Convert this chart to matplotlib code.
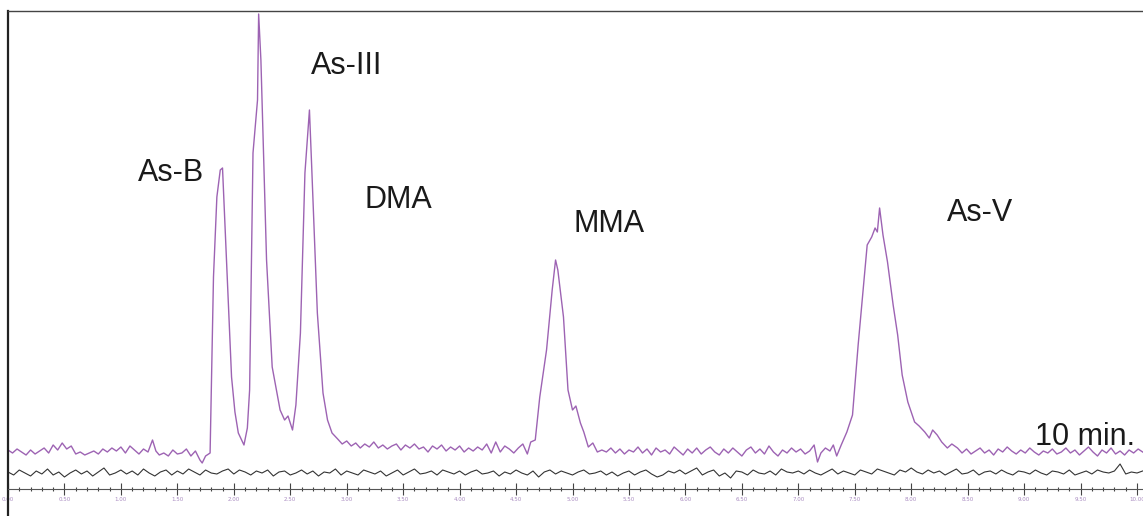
import numpy as np
import matplotlib
matplotlib.use("Agg")
import matplotlib.pyplot as plt
from matplotlib.ticker import MultipleLocator, FormatStrFormatter

# Sample chromatogram (purple), retention time in min vs. detector signal
sample_time = [
    0.00, 0.04, 0.08, 0.12, 0.16, 0.20, 0.24, 0.28, 0.32, 0.36, 0.40, 0.44, 0.48, 0.52, 0.56,
    0.60, 0.64, 0.68, 0.72, 0.76, 0.80, 0.84, 0.88, 0.92, 0.96, 1.00, 1.04, 1.08, 1.12, 1.16,
    1.20, 1.24, 1.28, 1.31, 1.34, 1.38, 1.42, 1.46, 1.50, 1.54, 1.58, 1.62, 1.66, 1.70, 1.72,
    1.75, 1.79, 1.82, 1.85, 1.88, 1.90, 1.92, 1.95, 1.98, 2.01, 2.04, 2.09, 2.12, 2.14, 2.17,
    2.21, 2.22, 2.24, 2.26, 2.29, 2.34, 2.41, 2.45, 2.48, 2.52, 2.55, 2.59, 2.63, 2.67, 2.69,
    2.74, 2.79, 2.83, 2.87,
    2.92, 2.96, 3.00, 3.04, 3.08, 3.12, 3.16, 3.20, 3.24, 3.28, 3.32, 3.36, 3.40, 3.44, 3.48,
    3.52, 3.56, 3.60, 3.64, 3.68, 3.72, 3.76, 3.80, 3.84, 3.88, 3.92, 3.96, 4.00, 4.04, 4.08,
    4.12, 4.16, 4.20, 4.24, 4.28, 4.32, 4.36, 4.40, 4.44, 4.48, 4.52, 4.56, 4.60, 4.63,
    4.67, 4.71, 4.77, 4.82, 4.85, 4.87, 4.92, 4.96, 5.00, 5.03, 5.07, 5.10, 5.14, 5.18, 5.22, 5.26,
    5.30, 5.34, 5.38, 5.42, 5.46, 5.50, 5.54, 5.58, 5.62, 5.66, 5.70, 5.74, 5.78, 5.82, 5.86,
    5.90, 5.94, 5.98, 6.02, 6.06, 6.10, 6.14, 6.18, 6.22, 6.26, 6.30, 6.34, 6.38, 6.42, 6.46,
    6.50, 6.54, 6.58, 6.62, 6.66, 6.70, 6.74, 6.78, 6.82, 6.86, 6.90, 6.94, 6.98, 7.02, 7.06,
    7.10, 7.14, 7.17, 7.20, 7.24, 7.28, 7.31, 7.34, 7.38,
    7.43, 7.48, 7.53, 7.57, 7.61, 7.65, 7.68, 7.70, 7.72, 7.75, 7.79, 7.84, 7.88, 7.92, 7.97,
    8.03, 8.07, 8.12, 8.16, 8.19, 8.23, 8.27, 8.32, 8.36, 8.41,
    8.45, 8.49, 8.53, 8.57, 8.61, 8.65, 8.69, 8.73, 8.77, 8.81, 8.85, 8.89, 8.93, 8.97, 9.01,
    9.05, 9.09, 9.13, 9.17, 9.21, 9.25, 9.29, 9.33, 9.37, 9.41, 9.45, 9.49, 9.53, 9.57, 9.61,
    9.65, 9.69, 9.73, 9.77, 9.81, 9.85, 9.89, 9.93, 9.97, 10.01, 10.05,
]
sample_signal = [
    0, -3, 1, -2, -5, 0, -4, -1, 2, -3, 5, 0, 7, 1, 4,
    -4, -2, -5, -3, -1, -4, 1, -2, 2, -1, 3, -3, 4, 0, -4,
    1, -2, 10, -1, -5, -3, -6, 0, -4, -3, 1, -6, -1, -10, -13,
    -6, -3, 173, 253, 280, 282, 230, 150, 73, 38, 17, 5, 22, 60, 297,
    350, 436, 390, 310, 190, 83, 40, 30, 34, 20, 45, 117, 277, 340, 283,
    137, 57, 30, 17,
    11, 6, 9, 4, 7, 2, 6, 3, 8, 2, 5, 1, 4, 6, 0,
    5, 2, 6, 1, 3, -2, 4, 1, 5, -1, 3, 0, 4, -2, 2,
    -1, 3, 0, 6, -3, 8, -2, 4, 1, -3, 2, 6, -4, 8,
    10, 53, 100, 160, 190, 180, 133, 60, 40, 44, 27, 18, 3, 7, -2, 0,
    -2, 2, -3, 1, -4, 0, -2, 3, -3, 1, -5, 2, -2, 0, -4,
    3, -1, -5, 1, -3, 2, -4, 0, 3, -2, -5, 1, -3, 2, -2,
    -6, 0, 3, -3, 1, -4, 4, -2, -6, 0, -3, 2, -2, 1, -4,
    -1, 5, -12, -3, 2, -1, 5, -6, 5,
    18, 35, 105, 155, 205, 213, 222, 218, 242, 215, 188, 145, 115, 75, 48,
    28, 24, 18, 12, 20, 15, 8, 2, 6, 2,
    -3, 1, -4, -1, 2, -3, 0, -5, 1, -2, 3, -1, -4, 0, -3,
    2, -2, -5, -1, -3, 1, -4, -2, 2, -3, 0, -5, -1, 3, -2,
    -6, 0, -3, 2, -4, -1, -5, 0, -3, 1, -2,
]

# Blank run (black), sampled every 0.05 min
blank_step = 0.05
blank_signal = [
    1, -2, 3, 0, -3, 2, -1, 4, -2, 1, -4, 0, 3, -1, 2, -3, 1, 5, -2, 0,
    3, -1, 2, -2, 4, 0, -3, 1, 3, -2, 2, -1, 4, 1, -2, 3, 0, -1, 2, 4,
    -1, 3, 1, -2, 2, 0, 3, -3, 1, 2, -2, 0, 3, -1, 2, -3, 1, 0, 4, -2,
    2, 0, -2, 3, 1, -1, 2, -3, 0, 3, -2, 1, 4, -1, 0, 2, -2, 3, 1, -1,
    2, -2, 1, 3, -1, 0, 2, -3, 1, -1, 3, 0, -2, 2, -4, 1, 3, -1, 2, 0,
    -2, 1, 3, -1, 0, 2, -2, 1, -3, 0, 2, -2, 1, 3, -1, -4, -2, 2, 0, 3,
    -1, 2, 5, -2, 1, 3, -3, 0, -5, 2, 1, -2, 3, 0, -1, 2, -2, 4, 1, 0,
    2, -1, 3, 0, -2, 1, 4, -1, 2, 0, -2, 3, 1, -1, 4, 2, 0, -2, 3, 1,
    5, 1, -1, 3, 0, 2, -2, 1, 4, -1, 0, 3, -2, 1, 2, -1, 3, 0, -2, 2,
    1, -1, 3, 0, -2, 2, 1, -1, 3, -2, 0, 2, -1, 3, 1, 0, 2, 9, -1, 1,
    0, 2,
]

peak_names = ["As-B", "As-III", "DMA", "MMA", "As-V"]
label_time = [1.44, 3.00, 3.46, 5.32, 8.61]
label_height = [277, 384, 250, 226, 237]


def plot_chromatogram():
    fig = plt.figure(figsize=(11.43, 5.16), dpi=100)
    ax = fig.add_axes([0.007, 0.0, 0.993, 0.9787])

    blank_time = np.arange(len(blank_signal)) * blank_step
    blank_offset = -23

    ax.plot(sample_time, sample_signal, color="#9d63b3", lw=1.0)
    ax.plot(blank_time, np.array(blank_signal) + blank_offset, color="#333333", lw=0.8)

    for name, t, h in zip(peak_names, label_time, label_height):
        ax.text(t, h, name, fontsize=22, ha="center", va="center",
                family="Liberation Sans", color="#1a1a1a")
    ax.text(9.54, 13, "10 min.", fontsize=22, ha="center", va="center",
            family="Liberation Sans", color="#1a1a1a")

    ax.set_xlim(0, 10.053)
    ax.set_ylim(-66, 439)

    # time axis drawn inside the frame, under the traces
    ax.spines["bottom"].set_position(("data", -39))
    ax.spines["bottom"].set_linewidth(0.8)
    ax.spines["bottom"].set_color("#555555")
    ax.spines["right"].set_visible(False)
    ax.spines["left"].set_linewidth(1.6)
    ax.spines["left"].set_color("#222222")
    ax.spines["top"].set_linewidth(1.0)
    ax.spines["top"].set_color("#444444")

    ax.xaxis.set_major_locator(MultipleLocator(0.5))
    ax.xaxis.set_minor_locator(MultipleLocator(0.1))
    ax.xaxis.set_major_formatter(FormatStrFormatter("%.2f"))
    ax.tick_params(axis="x", which="major", direction="inout", length=8, width=0.8,
                   color="#444444", labelsize=4, labelcolor="#a88ac0", pad=2)
    ax.tick_params(axis="x", which="minor", direction="inout", length=3, width=0.8,
                   color="#444444")
    ax.set_yticks([])

    fig.savefig("out.png", dpi=100)
    plt.close(fig)


if __name__ == "__main__":
    plot_chromatogram()
